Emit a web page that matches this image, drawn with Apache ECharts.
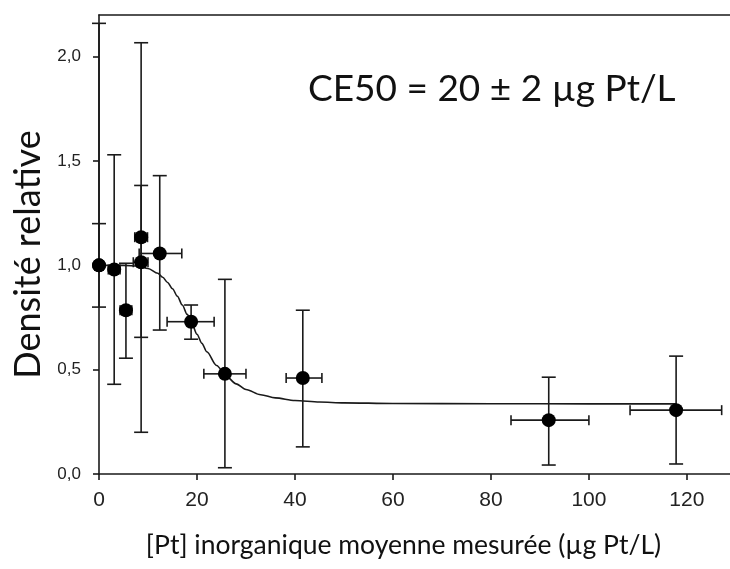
<!DOCTYPE html>
<html>
<head>
<meta charset="utf-8">
<script src="https://cdn.jsdelivr.net/npm/echarts@6/dist/echarts.min.js"></script>
<style>
html,body{margin:0;padding:0;background:#fff;}
#chart{width:730px;height:569px;}
</style>
</head>
<body>
<div id="chart"></div>
<script>
// ---- data ----
var pointX   = [0,    0,    3.1,  5.5,   8.6,   8.6,   12.4,  18.8,  25.7,  41.6,  91.8,  117.8];
var pointY   = [1.0,  1.0,  0.98, 0.785, 1.015, 1.135, 1.057, 0.73,  0.48,  0.46,  0.258, 0.306];
var errYLow  = [0.8,  null, 0.43, 0.555, 0.655, 0.2,   0.69,  0.646, 0.03,  0.13,  0.043, 0.048];
var errYHigh = [1.2,  2.16, 1.53, 1.01,  1.383, 2.067, 1.43,  0.81,  0.933, 0.785, 0.464, 0.565];
var errXLow  = [null, null, 1.9,  4.3,   7.0,   7.3,   8.2,   13.9,  21.4,  38.2,  84.1,  108.4];
var errXHigh = [null, null, 4.3,  6.7,   10.0,  9.9,   16.9,  23.5,  30.0,  45.5,  100.0, 127.1];

var curveX = [0, 5, 8, 10, 12, 13, 14, 15, 16, 17, 18, 19, 20, 21, 22, 24, 26, 28, 30, 33, 36, 40, 45, 50, 60, 80, 100, 117.8];
var curveY = [1.0, 1.0, 0.997, 0.985, 0.962, 0.943, 0.918, 0.888, 0.852, 0.81, 0.765, 0.718, 0.67, 0.626, 0.586, 0.52, 0.468, 0.432, 0.405, 0.38, 0.365, 0.352, 0.345, 0.341, 0.338, 0.337, 0.336, 0.336];

var xTicks = [0, 20, 40, 60, 80, 100, 120];
var yTicks = [0, 0.5, 1.0, 1.5, 2.0];

var xTitle = '[Pt] inorganique moyenne mesurée (µg Pt/L)';
var yTitle = 'Densité relative';
var annotation = 'CE50 = 20 ± 2 µg Pt/L';

// ---- build ----
var errData = pointX.map(function (x, i) {
  return [x, pointY[i], errXLow[i], errXHigh[i], errYLow[i], errYHigh[i]];
});
var scatterData = pointX.map(function (x, i) { return [x, pointY[i]]; });
var curveData = curveX.map(function (x, i) { return [x, curveY[i]]; });

var ink = '#1a1a1a';
var lineStyle = { stroke: ink, lineWidth: 1.6 };

function renderErr(params, api) {
  var x = api.value(0), y = api.value(1);
  var xl = api.value(2), xh = api.value(3), yl = api.value(4), yh = api.value(5);
  var c = api.coord([x, y]);
  var children = [];
  var capV = 7, capH = 5;
  function valid(v) { return v !== null && v !== undefined && v !== '-' && !isNaN(v); }
  if (valid(yh)) {
    var p = api.coord([x, yh]);
    children.push({ type: 'line', shape: { x1: c[0], y1: c[1], x2: p[0], y2: p[1] }, style: lineStyle });
    children.push({ type: 'line', shape: { x1: p[0] - capV, y1: p[1], x2: p[0] + capV, y2: p[1] }, style: lineStyle });
  }
  if (valid(yl)) {
    var q = api.coord([x, yl]);
    children.push({ type: 'line', shape: { x1: c[0], y1: c[1], x2: q[0], y2: q[1] }, style: lineStyle });
    children.push({ type: 'line', shape: { x1: q[0] - capV, y1: q[1], x2: q[0] + capV, y2: q[1] }, style: lineStyle });
  }
  if (valid(xl)) {
    var r = api.coord([xl, y]);
    children.push({ type: 'line', shape: { x1: c[0], y1: c[1], x2: r[0], y2: r[1] }, style: lineStyle });
    children.push({ type: 'line', shape: { x1: r[0], y1: r[1] - capH, x2: r[0], y2: r[1] + capH }, style: lineStyle });
  }
  if (valid(xh)) {
    var s = api.coord([xh, y]);
    children.push({ type: 'line', shape: { x1: c[0], y1: c[1], x2: s[0], y2: s[1] }, style: lineStyle });
    children.push({ type: 'line', shape: { x1: s[0], y1: s[1] - capH, x2: s[0], y2: s[1] + capH }, style: lineStyle });
  }
  return { type: 'group', children: children };
}

var chart = echarts.init(document.getElementById('chart'), null, { renderer: 'canvas' });
chart.setOption({
  backgroundColor: '#ffffff',
  animation: false,
  grid: { left: 99, top: 15, right: 0, bottom: 95, containLabel: false },
  xAxis: [{
    type: 'value', min: 0, max: 128.8,
    name: xTitle, nameLocation: 'middle', nameGap: 58,
    nameTextStyle: { fontFamily: 'Lato', fontSize: 26.5, color: '#111', padding: [0, 22, 0, 0] },
    axisLine: { show: true, onZero: false, lineStyle: { color: ink, width: 1.6 } },
    axisTick: { show: true, length: 6, customValues: xTicks, lineStyle: { color: ink, width: 1.6 } },
    axisLabel: { customValues: xTicks, margin: 16, fontFamily: 'Liberation Sans', fontSize: 21, color: '#222' },
    splitLine: { show: false }
  }, {
    type: 'value', min: 0, max: 128.8, position: 'top',
    axisLine: { show: true, onZero: false, lineStyle: { color: ink, width: 1.6 } },
    axisTick: { show: false }, axisLabel: { show: false }, splitLine: { show: false }
  }],
  yAxis: {
    type: 'value', min: 0, max: 2.2,
    name: yTitle, nameLocation: 'middle', nameGap: 51,
    nameTextStyle: { fontFamily: 'Lato', fontSize: 36, color: '#111', padding: [0, 20, 0, 0] },
    axisLine: { show: true, onZero: false, lineStyle: { color: ink, width: 1.6 } },
    axisTick: { show: true, length: 6, customValues: yTicks, lineStyle: { color: ink, width: 1.6 } },
    axisLabel: {
      customValues: yTicks, margin: 18, fontFamily: 'Liberation Sans', fontSize: 17, color: '#222',
      formatter: function (v) { return v.toFixed(1).replace('.', ','); }
    },
    splitLine: { show: false }
  },
  graphic: [{
    type: 'text', left: 308, top: 71, z: 10,
    style: { text: annotation, fontFamily: 'Lato', fontSize: 37, fill: '#111' }
  }],
  series: [{
    type: 'line', data: curveData, showSymbol: false, smooth: 0.3, smoothMonotone: 'x',
    lineStyle: { color: ink, width: 1.6 }, z: 2, silent: true
  }, {
    type: 'custom', data: errData, renderItem: renderErr, z: 3, silent: true,
    encode: { x: 0, y: 1 }
  }, {
    type: 'scatter', data: scatterData, symbol: 'circle', symbolSize: 14,
    itemStyle: { color: '#000', opacity: 1 }, z: 4
  }]
});
</script>
</body>
</html>
